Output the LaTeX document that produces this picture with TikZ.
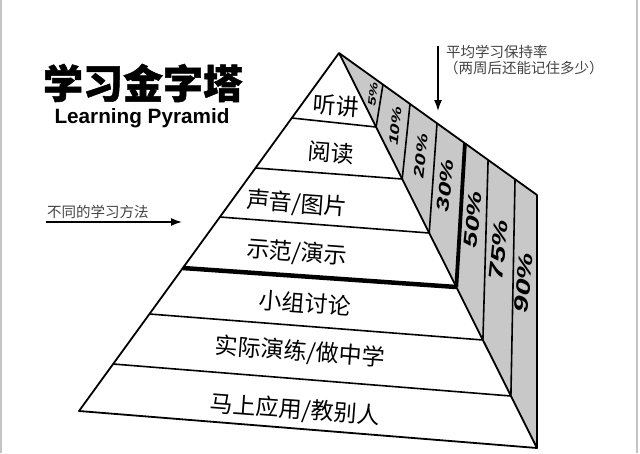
\documentclass[tikz,border=0pt]{standalone}
\usepackage{fontspec}
\newfontfamily\cjk{Noto Sans CJK SC}
\newfontfamily\cjkheavy{Noto Sans CJK SC}[BoldFeatures={FakeBold=1.2}]
\newfontfamily\lsans{Liberation Sans}
\usetikzlibrary{arrows.meta,calc}
\definecolor{facegray}{HTML}{C8C8C8}
\definecolor{frame}{HTML}{C4C4C4}
\definecolor{notegray}{HTML}{444444}
\begin{document}
\begin{tikzpicture}[x=1pt,y=-1pt,
  edge/.style={line width=1.8pt, line join=round},
  band/.style={line width=1.6pt},
  thickband/.style={line width=4.5pt},
  level/.style={font=\cjk\fontsize{23}{23}\selectfont, rotate=-4.3, inner sep=0pt},
  pct/.style={rotate=84, inner sep=0pt, text height=0.72em, text depth=0pt},
  note/.style={font=\cjk\fontsize{14.5}{16}\selectfont, text=notegray, inner sep=0pt, anchor=west},
  arr/.style={line width=1.5pt, -{Latex[length=11pt,width=8pt]}}]
\useasboundingbox (0,0) rectangle (640,453);
\fill[white] (0,0) rectangle (640,453);
\draw[frame, line width=1.5pt] (1,0) -- (1,453);
\draw[frame, line width=1.5pt] (637,0) -- (637,453);

% pyramid corners
\coordinate (A) at (339,53);
\coordinate (BL) at (79,411);
\coordinate (BR) at (537,448);
\coordinate (TR) at (537,195);
% band ends on the left edge
\coordinate (l1) at (291.8,118);
\coordinate (l2) at (255.5,168);
\coordinate (l3) at (219.9,217);
\coordinate (l4) at (182.8,268);
\coordinate (l5) at (149.4,314);
\coordinate (l6) at (113.1,364);
% band ends on the front right edge
\coordinate (r1) at (376.1,127);
\coordinate (r2) at (402.2,179);
\coordinate (r3) at (429.2,233);
\coordinate (r4) at (456.3,287);
\coordinate (r5) at (482.9,340);
\coordinate (r6) at (510.9,396);
% divider ends on the top edge
\coordinate (t1) at ($(A)!0.222!(TR)$);
\coordinate (t2) at ($(A)!0.3586!(TR)$);
\coordinate (t3) at ($(A)!0.495!(TR)$);
\coordinate (t4) at ($(A)!0.636!(TR)$);
\coordinate (t5) at ($(A)!0.753!(TR)$);
\coordinate (t6) at ($(A)!0.889!(TR)$);

\fill[facegray] (A) -- (TR) -- (BR) -- cycle;

\draw[band] (r1) -- (t1);
\draw[band] (r2) -- (t2);
\draw[band] (r3) -- (t3);
\draw[line width=3.8pt] (r4) -- (t4);
\draw[band] (r5) -- (t5);
\draw[band] (r6) -- (t6);

\draw[band] (l1) -- (r1);
\draw[band] (l2) -- (r2);
\draw[band] (l3) -- (r3);
\draw[thickband] (l4) -- (r4);
\draw[band] (l5) -- (r5);
\draw[band] (l6) -- (r6);

\draw[edge] (A) -- (BL) -- (BR) -- (TR) -- cycle;
\draw[edge] (A) -- (BR);

% level labels
\node[level] (k1) at (336,106) {听讲};
\node[level] (k2) at (331,153) {阅读};
\node[level] (k3) at (297,204) {声音/图片};
\node[level] (k4) at (297,253) {示范/演示};
\node[level] (k5) at (305,303) {小组讨论};
\node[level] (k6) at (300,352) {实际演练/做中学};
\node[level] (k7) at (295,410) {马上应用/教别人};

% percentages
\node[pct, font=\lsans\bfseries\itshape\fontsize{11}{11}\selectfont] (p1) at (373,94) {\scalebox{1.5}[1]{5\%}};
\node[pct, font=\lsans\bfseries\itshape\fontsize{13}{13}\selectfont] (p2) at (396,126) {\scalebox{1.5}[1]{10\%}};
\node[pct, font=\lsans\bfseries\itshape\fontsize{14.5}{15}\selectfont] (p3) at (422,156) {\scalebox{1.5}[1]{20\%}};
\node[pct, font=\lsans\bfseries\itshape\fontsize{17.5}{18}\selectfont] (p4) at (448,186) {\scalebox{1.5}[1]{30\%}};
\node[pct, font=\lsans\bfseries\itshape\fontsize{19}{19}\selectfont] (p5) at (476,220) {\scalebox{1.5}[1]{50\%}};
\node[pct, font=\lsans\bfseries\itshape\fontsize{20}{20}\selectfont] (p6) at (502,250) {\scalebox{1.5}[1]{75\%}};
\node[pct, font=\lsans\bfseries\itshape\fontsize{20}{20}\selectfont] (p7) at (527,283) {\scalebox{1.5}[1]{90\%}};

% titles
\node[font=\cjkheavy\bfseries\fontsize{40}{40}\selectfont, inner sep=0pt] (title) at (143,83) {学习金字塔};
\node[font=\lsans\bfseries\fontsize{20.7}{21}\selectfont, inner sep=0pt] (subtitle) at (142,118) {Learning Pyramid};

% notes and arrows
\node[note] (n1) at (446,52) {平均学习保持率};
\node[note] (n2) at (444,67.5) {（两周后还能记住多少）};
\coordinate (d1) at (438,46);
\coordinate (d2) at (438,111);
\draw[arr] (d1) -- (d2);

\node[note] (n3) at (47,212) {不同的学习方法};
\coordinate (m1) at (46,222);
\coordinate (m2) at (182,222);
\draw[arr] (m1) -- (m2);
\end{tikzpicture}
\end{document}
